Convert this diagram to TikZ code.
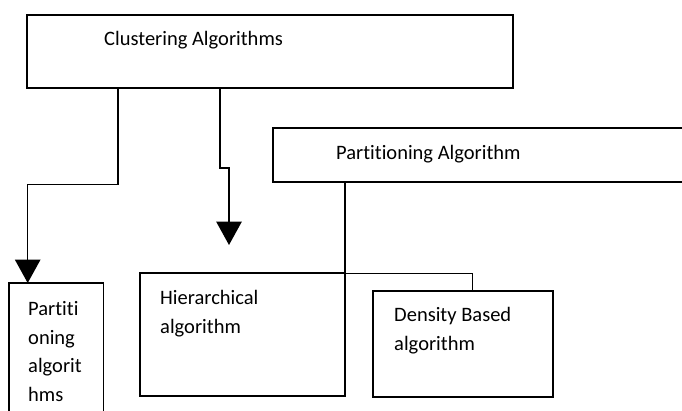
\documentclass[tikz,border=0pt]{standalone}
\usepackage{fontspec}
\setmainfont{Carlito}[Ligatures=NoCommon]
\usetikzlibrary{arrows.meta}

\tikzset{
  box/.style={draw, line width=1.7pt, rectangle, inner sep=0pt, outer sep=0pt, anchor=north west},
  lbl/.style={inner sep=0pt, anchor=base west, align=left,
    font=\fontsize{20.5}{28.8}\selectfont},
  conn/.style={line width=1.5pt},
  arrow/.style={conn, -{Triangle[length=23.5pt, width=25.5pt]}}
}

\begin{document}
\begin{tikzpicture}[x=1pt, y=-1pt]
			\useasboundingbox (0,0) rectangle (682,410);
			\clip (0,0) rectangle (682,410);
			%%%%%%%%%%%%%%%%%%%%%%%%%%%%%%%%
			\node[box, minimum width=485.7pt, minimum height=72.7pt] (clust) at (27.3,15) {};
			\node[lbl] (clusttxt) at (104,45.3) {Clustering Algorithms};
			\node[box, minimum width=430pt, minimum height=54pt] (pa) at (273,128.3) {};
			\node[lbl] (patxt) at (336,159) {Partitioning Algorithm};
			%%%%%%%%%%%%%%%%%%%%%%%%%%%%%%%%
			% multi-line labels sit on the baseline of their last line
			\node[box, minimum width=94.8pt, minimum height=135pt] (partn) at (8.7,283) {};
			\node[lbl] (partntxt) at (28,401.6) {Partiti\\oning\\algorit\\hms};
			\node[box, minimum width=205pt, minimum height=123pt] (hier) at (140,273.3) {};
			\node[lbl] (hiertxt) at (160,333.1) {Hierarchical\\algorithm};
			\node[box, minimum width=180pt, minimum height=105.7pt] (dens) at (373.3,291) {};
			\node[lbl] (denstxt) at (394,350.5) {Density Based\\algorithm};
			%%%%%%%%%%%%%%%%%%%%%%%%%%%%%
			\coordinate (hiertip) at (229,245);
			\draw[arrow] ([xshift=90.7pt]clust.south west) -- ++(0,97) -| ([xshift=19pt]partn.north west);
			\draw[arrow] ([xshift=192.7pt]clust.south west) -- ++(0,80.3) -| (hiertip);
			\draw[conn] ([xshift=72pt]pa.south west) -- (hier.north east) -| ([xshift=99pt]dens.north west);
		\end{tikzpicture}
\end{document}
